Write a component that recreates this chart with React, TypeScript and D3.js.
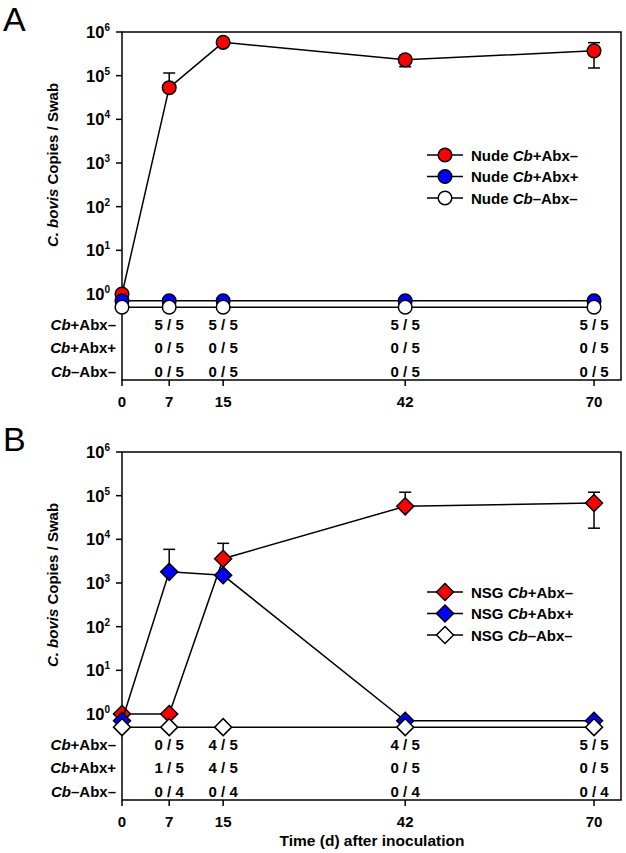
import React from 'react';
import * as d3 from 'd3';

// time points (days after inoculation)
const days = [0, 7, 15, 42, 70];
const decades = [0, 1, 2, 3, 4, 5, 6];
const rowLabels = ['+Abx\u2013', '+Abx+', '\u2013Abx\u2013'];

// Panel A - Nude mice
const nudeCbAbxNeg = [1, 5.3e4, 5.8e5, 2.3e5, 3.7e5];
const nudeCbAbxNegHi = [null, 1.15e5, null, 2.9e5, 5.7e5];
const nudeCbAbxNegLo = [null, null, null, 1.6e5, 1.5e5];
const nudeCbAbxPos = [0.7, 0.7, 0.7, 0.7, 0.7];
const nudeNoCb = [0.5, 0.5, 0.5, 0.5, 0.5];
const nudeTable = [
  ['', '5 / 5', '5 / 5', '5 / 5', '5 / 5'],
  ['', '0 / 5', '0 / 5', '0 / 5', '0 / 5'],
  ['', '0 / 5', '0 / 5', '0 / 5', '0 / 5'],
];

// Panel B - NSG mice
const nsgCbAbxNeg = [1, 1, 3.6e3, 5.7e4, 6.8e4];
const nsgCbAbxNegHi = [null, null, 8.1e3, 1.2e5, 1.2e5];
const nsgCbAbxNegLo = [null, null, null, null, 1.8e4];
const nsgCbAbxPos = [0.7, 1.8e3, 1.5e3, 0.7, 0.7];
const nsgCbAbxPosHi = [null, 5.9e3, null, null, null];
const nsgNoCb = [0.5, 0.5, 0.5, 0.5, 0.5];
const nsgTable = [
  ['', '0 / 5', '4 / 5', '4 / 5', '5 / 5'],
  ['', '1 / 5', '4 / 5', '0 / 5', '0 / 5'],
  ['', '0 / 4', '0 / 4', '0 / 4', '0 / 4'],
];

const FONT = '"Liberation Sans", Arial, sans-serif';

type Series = {
  name: string;
  values: number[];
  hi?: (number | null)[];
  lo?: (number | null)[];
  fill: string;
};

const Marker = ({ x, y, shape, fill }: { x: number; y: number; shape: string; fill: string }) =>
  shape === 'circle' ? (
    <circle cx={x} cy={y} r={6.8} fill={fill} stroke="#000" strokeWidth={1.5} />
  ) : (
    <path
      d={`M${x},${y - 8.5}L${x + 8.5},${y}L${x},${y + 8.5}L${x - 8.5},${y}Z`}
      fill={fill}
      stroke="#000"
      strokeWidth={1.5}
    />
  );

const Panel = ({
  top,
  letter,
  shape,
  series,
  table,
  legendY,
  prefix,
  showTitle,
}: {
  top: number;
  letter: string;
  shape: string;
  series: Series[];
  table: string[][];
  legendY: number;
  prefix: string;
  showTitle?: boolean;
}) => {
  const left = 122;
  const right = 621;
  const bottom = top + 348;
  const x = d3.scaleLinear().domain([0, 74]).range([left, right]);
  const y = d3.scaleLog().domain([1, 1e6]).range([top + 262, top]);
  const line = d3
    .line<number>()
    .x((_, i) => x(days[i]))
    .y(d => y(d));
  const rowY = [top + 293, top + 316, top + 340];

  return (
    <g fontFamily={FONT}>
      <text x={3} y={top - 1} fontSize={34} fill="#000">
        {letter}
      </text>
      {/* frame */}
      <rect x={left} y={top} width={right - left} height={bottom - top} fill="none" stroke="#000" strokeWidth={1.5} />
      {/* y axis */}
      {decades.map(k => (
        <g key={k}>
          <line x1={left - 6} x2={left} y1={y(Math.pow(10, k))} y2={y(Math.pow(10, k))} stroke="#000" strokeWidth={1.5} />
          <text
            x={left - 12}
            y={y(Math.pow(10, k)) + 6}
            textAnchor="end"
            fontSize={16.5}
            fontWeight="bold"
          >
            10
            <tspan dy={-7} fontSize={10}>
              {k}
            </tspan>
          </text>
        </g>
      ))}
      <text
        transform={`translate(58,${top + 133}) rotate(-90)`}
        textAnchor="middle"
        fontSize={15}
        fontWeight="bold"
      >
        <tspan fontStyle="italic">C. bovis</tspan> Copies / Swab
      </text>
      {/* x axis */}
      {days.map(d => (
        <g key={d}>
          <line x1={x(d)} x2={x(d)} y1={bottom} y2={bottom + 6} stroke="#000" strokeWidth={1.5} />
          <text x={x(d)} y={bottom + 27} textAnchor="middle" fontSize={15} fontWeight="bold">
            {d}
          </text>
        </g>
      ))}
      {showTitle && (
        <text x={372} y={bottom + 46} textAnchor="middle" fontSize={15.5} fontWeight="bold">
          Time (d) after inoculation
        </text>
      )}
      {/* table */}
      {rowLabels.map((lab, r) => (
        <g key={lab}>
          <text x={116} y={rowY[r] + 5} textAnchor="end" fontSize={15} fontWeight="bold">
            <tspan fontStyle="italic">Cb</tspan>
            {lab}
          </text>
          {table[r].map((t, i) =>
            t ? (
              <text key={i} x={x(days[i])} y={rowY[r] + 5} textAnchor="middle" fontSize={15} fontWeight="bold">
                {t}
              </text>
            ) : null
          )}
        </g>
      ))}
      {/* series */}
      {series.map(s => (
        <g key={s.name}>
          {s.values.map((v, i) => (
            <g key={i}>
              {s.hi && s.hi[i] != null && (
                <g stroke="#000" strokeWidth={1.5}>
                  <line x1={x(days[i])} x2={x(days[i])} y1={y(v)} y2={y(s.hi[i] as number)} />
                  <line x1={x(days[i]) - 6} x2={x(days[i]) + 6} y1={y(s.hi[i] as number)} y2={y(s.hi[i] as number)} />
                </g>
              )}
              {s.lo && s.lo[i] != null && (
                <g stroke="#000" strokeWidth={1.5}>
                  <line x1={x(days[i])} x2={x(days[i])} y1={y(v)} y2={y(s.lo[i] as number)} />
                  <line x1={x(days[i]) - 6} x2={x(days[i]) + 6} y1={y(s.lo[i] as number)} y2={y(s.lo[i] as number)} />
                </g>
              )}
            </g>
          ))}
          <path d={line(s.values) ?? ''} fill="none" stroke="#000" strokeWidth={1.5} />
          {s.values.map((v, i) => (
            <Marker key={i} x={x(days[i])} y={y(v)} shape={shape} fill={s.fill} />
          ))}
        </g>
      ))}
      {/* legend */}
      {series.map((s, i) => {
        const ly = top + legendY + i * 21.5;
        return (
          <g key={s.name}>
            <line x1={427} x2={463} y1={ly} y2={ly} stroke="#000" strokeWidth={1.5} />
            <Marker x={445} y={ly} shape={shape} fill={s.fill} />
            <text x={471} y={ly + 5.5} fontSize={15} fontWeight="bold">
              {prefix} <tspan fontStyle="italic">Cb</tspan>
              {s.name}
            </text>
          </g>
        );
      })}
    </g>
  );
};

export default function App() {
  const nude: Series[] = [
    { name: '+Abx\u2013', values: nudeCbAbxNeg, hi: nudeCbAbxNegHi, lo: nudeCbAbxNegLo, fill: '#ff0000' },
    { name: '+Abx+', values: nudeCbAbxPos, fill: '#0000ff' },
    { name: '\u2013Abx\u2013', values: nudeNoCb, fill: '#ffffff' },
  ];
  const nsg: Series[] = [
    { name: '+Abx\u2013', values: nsgCbAbxNeg, hi: nsgCbAbxNegHi, lo: nsgCbAbxNegLo, fill: '#ff0000' },
    { name: '+Abx+', values: nsgCbAbxPos, hi: nsgCbAbxPosHi, fill: '#0000ff' },
    { name: '\u2013Abx\u2013', values: nsgNoCb, fill: '#ffffff' },
  ];
  return (
    <svg
      width={626}
      height={853}
      style={{ position: 'absolute', left: 0, top: 0, background: '#fff' }}
    >
      <Panel top={32} letter="A" shape="circle" series={nude} table={nudeTable} legendY={123} prefix="Nude" />
      <Panel
        top={452}
        letter="B"
        shape="diamond"
        series={nsg}
        table={nsgTable}
        legendY={140}
        prefix="NSG"
        showTitle
      />
    </svg>
  );
}
